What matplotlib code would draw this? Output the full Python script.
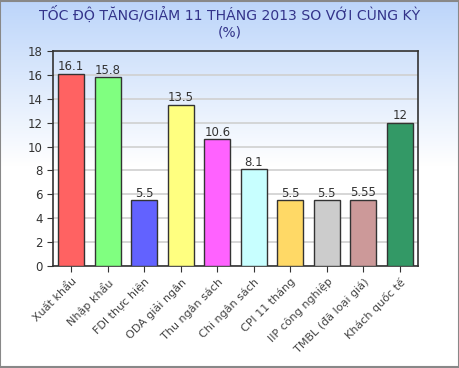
import numpy as np
import matplotlib
matplotlib.use('Agg')
from matplotlib import pyplot as plt
from matplotlib.colors import LinearSegmentedColormap

# * Data
categories = ['Xuất khẩu', 'Nhập khẩu', 'FDI thực hiện', 'ODA giải ngân', 'Thu ngân sách',
              'Chi ngân sách', 'CPI 11 tháng', 'IIP công nghiệp', 'TMBL (đã loại giá)',
              'Khách quốc tế']
values = [16.1, 15.8, 5.5, 13.5, 10.6, 8.1, 5.5, 5.5, 5.55, 12]
value_labels = ['16.1', '15.8', '5.5', '13.5', '10.6', '8.1', '5.5', '5.5', '5.55', '12']
colors = ['#ff6262', '#80ff80', '#6262ff', '#ffff80', '#ff62ff', '#c8ffff',
          '#ffd966', '#cccccc', '#cc9999', '#339966']

fig = plt.figure(figsize=(4.6, 3.68), dpi=100)

# * Background gradient
bg = fig.add_axes([0, 0, 1, 1], zorder=-1)
grad = np.linspace(0, 1, 256).reshape(-1, 1)
cmap = LinearSegmentedColormap.from_list('bg', [(0, '#bcd5fa'), (0.45, '#ffffff'), (1, '#ffffff')])
bg.imshow(grad, aspect='auto', cmap=cmap, extent=[0, 1, 0, 1], origin='upper')
bg.axis('off')
border = plt.Rectangle((0.001, 0.002), 0.997, 0.995, transform=fig.transFigure,
                       fill=False, edgecolor='#888888', linewidth=1.5)
fig.patches.append(border)

ax = fig.add_axes([53 / 460, 1 - 266 / 368, (418 - 53) / 460, (266 - 51) / 368])
ax.patch.set_alpha(0)

x = np.arange(len(categories))
bars = ax.bar(x, values, width=0.72, color=colors, edgecolor='#333333', linewidth=1, zorder=3)
for xi, v, lab in zip(x, values, value_labels):
    ax.text(xi, v + 0.05, lab, ha='center', va='bottom', fontsize=8.5, color='#333333', zorder=4)

ax.set_xlim(-0.5, len(categories) - 0.5)
ax.set_ylim(0, 18)
ax.set_yticks(range(0, 19, 2))
ax.yaxis.grid(True, color='#d0d0d0', linewidth=1.2, zorder=0)
ax.set_xticks(x)
ax.set_xticklabels(categories, rotation=45, ha='right', rotation_mode='anchor',
                   fontsize=8, color='#444444')
ax.tick_params(axis='y', labelsize=8.5, colors='#333333', length=4)
ax.tick_params(axis='x', length=4, colors='#333333', labelcolor='#444444')
for s in ax.spines.values():
    s.set_color('#333333')
    s.set_linewidth(1.2)

fig.text(0.5, 0.962, 'TỐC ĐỘ TĂNG/GIẢM 11 THÁNG 2013 SO VỚI CÙNG KỲ', ha='center', va='center',
         fontsize=10.1, color='#33338a')
fig.text(0.5, 0.912, '(%)', ha='center', va='center', fontsize=10, color='#33338a')

fig.savefig('out.png', dpi=100)
